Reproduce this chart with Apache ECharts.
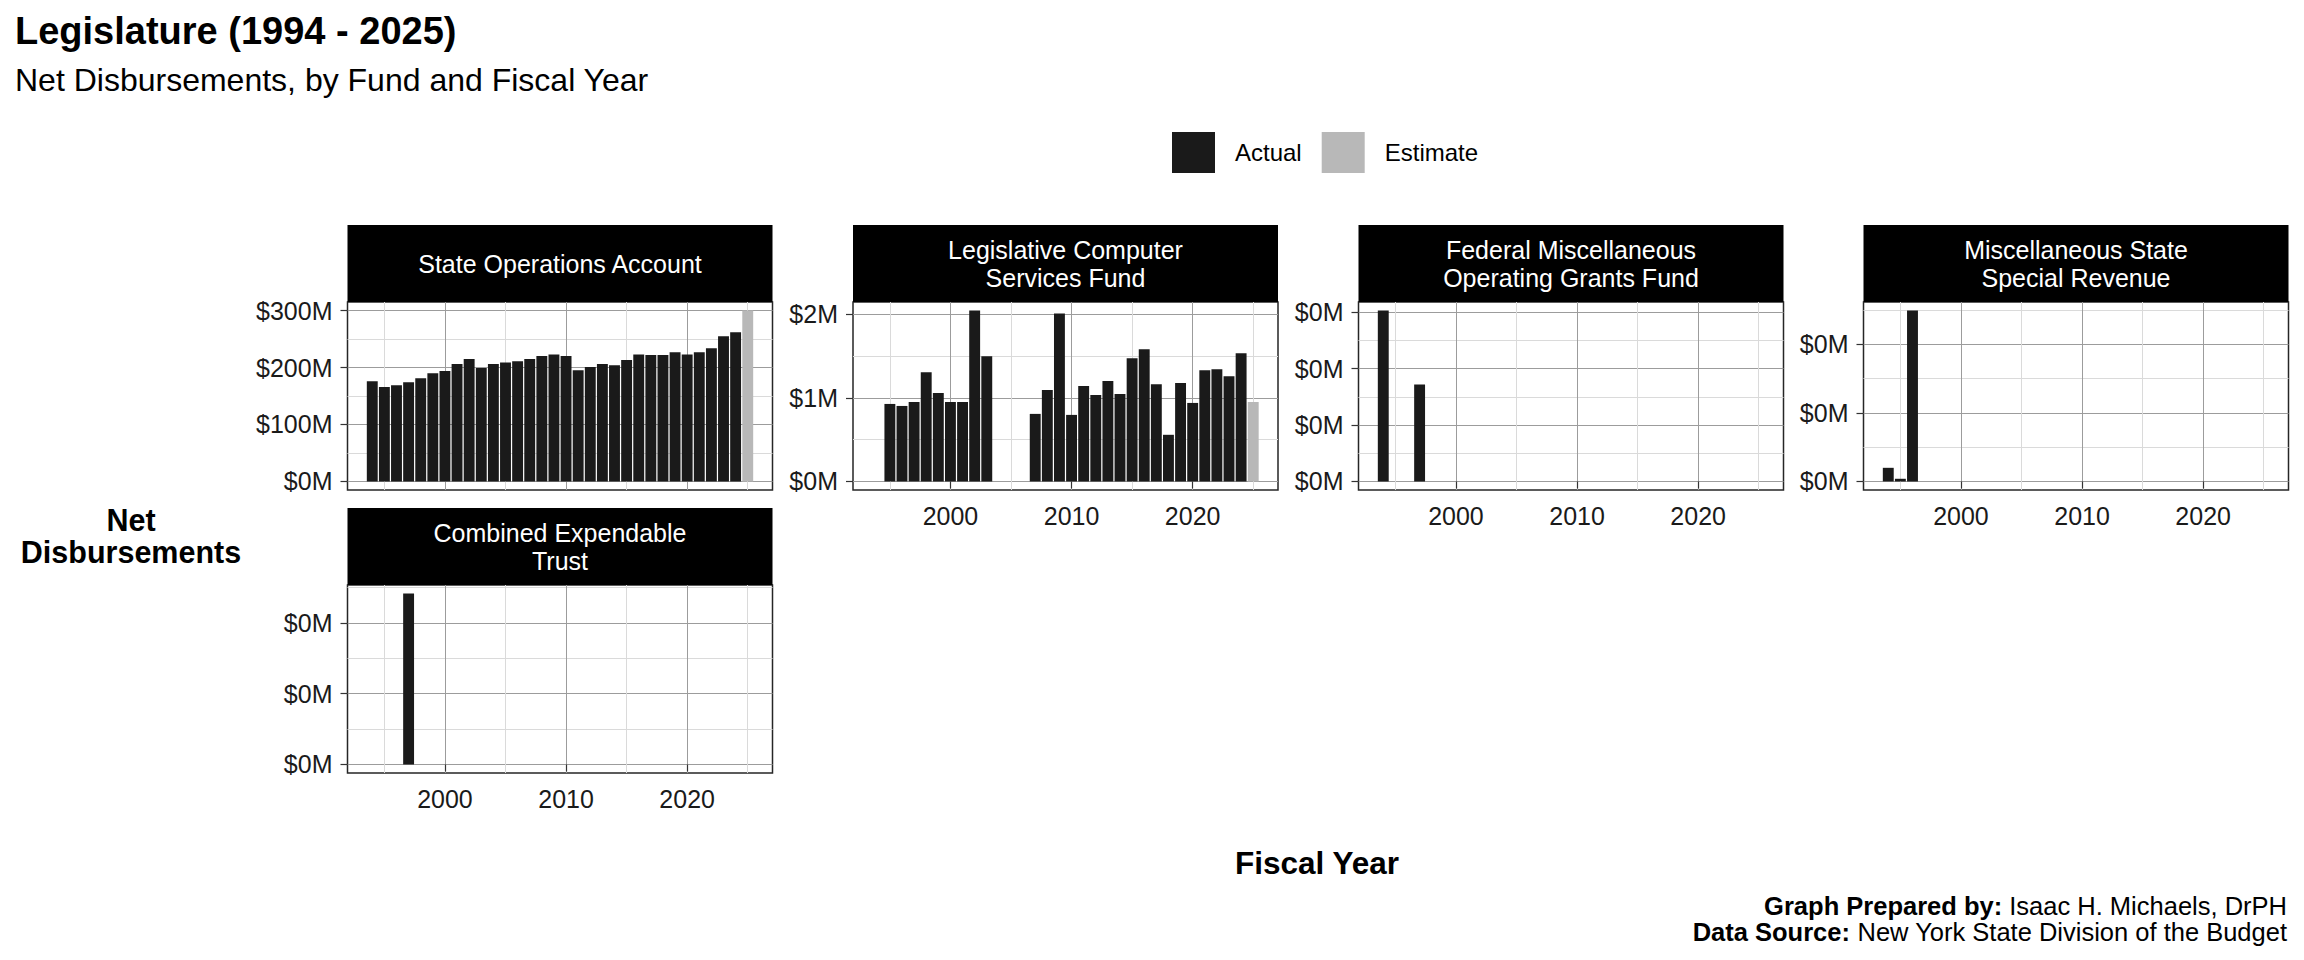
<!DOCTYPE html>
<html>
<head>
<meta charset="utf-8">
<script src="https://cdn.jsdelivr.net/npm/echarts@6/dist/echarts.min.js"></script>
<style>
html, body { margin: 0; padding: 0; background: #ffffff; }
#chart { width: 2304px; height: 960px; }
</style>
</head>
<body>
<div id="chart"></div>
<script>
// ---------------- DATA (values in millions of dollars) ----------------
const fundNames = [
  'State Operations Account',
  'Legislative Computer\nServices Fund',
  'Federal Miscellaneous\nOperating Grants Fund',
  'Miscellaneous State\nSpecial Revenue',
  'Combined Expendable\nTrust'
];
const seriesNames = ['Actual', 'Estimate'];
const fiscalYearSpan = [1994, 2025];

const stateOpsYears = [1994,1995,1996,1997,1998,1999,2000,2001,2002,2003,2004,2005,2006,2007,2008,2009,2010,2011,2012,2013,2014,2015,2016,2017,2018,2019,2020,2021,2022,2023,2024];
const stateOpsActual = [176,166,169,174,181,190,194,206,215,199,206,209,211,215,220,223,220,195,201,206,204,213,223,222,222,227,223,227,234,255,262];
const stateOpsEstYears = [2025];
const stateOpsEstimate = [300];

const computerYears = [1995,1996,1997,1998,1999,2000,2001,2002,2003,2007,2008,2009,2010,2011,2012,2013,2014,2015,2016,2017,2018,2019,2020,2021,2022,2023,2024];
const computerActual = [0.927,0.903,0.950,1.307,1.057,0.950,0.950,2.044,1.497,0.808,1.093,2.008,0.796,1.141,1.034,1.200,1.046,1.473,1.580,1.164,0.558,1.176,0.939,1.331,1.343,1.259,1.533];
const computerEstYears = [2025];
const computerEstimate = [0.950];

const federalYears = [1994, 1997];
const federalActual = [0.303, 0.172];

const miscStateYears = [1994, 1995, 1996];
const miscStateActual = [0.0398, 0.0078, 0.4988];

const expendableYears = [1997];
const expendableActual = [0.2417];

// tick values
const xTickValues = [2000, 2010, 2020];
const stateOpsTicks = [0, 100, 200, 300];
const computerTicks = [0, 1, 2];
const federalTicks = [0, 0.1, 0.2, 0.3];
const miscStateTicks = [0, 0.2, 0.4];
const expendableTicks = [0, 0.1, 0.2];

// ---------------- LAYOUT / STYLE ----------------
const FONT = "'Liberation Sans', Helvetica, Arial, sans-serif";
const PANEL_LEFT = [347.5, 853, 1358.5, 1863.5];
const ROW_TOP = [302, 585];
const PANEL_W = 425;
const PANEL_H = 188;
const STRIP_H = 77;
const ACTUAL_COLOR = '#1a1a1a';
const EST_COLOR = '#b8b8b8';
const MAJOR_GRID = '#9c9c9c';
const MINOR_GRID = '#dadada';

const panels = [
  { name: fundNames[0], col: 0, row: 0, years: stateOpsYears, actual: stateOpsActual, estYears: stateOpsEstYears, est: stateOpsEstimate, ticks: stateOpsTicks, split: 3, showX: false },
  { name: fundNames[1], col: 1, row: 0, years: computerYears, actual: computerActual, estYears: computerEstYears, est: computerEstimate, ticks: computerTicks, split: 2, showX: true },
  { name: fundNames[2], col: 2, row: 0, years: federalYears, actual: federalActual, estYears: [], est: [], ticks: federalTicks, split: 3, showX: true },
  { name: fundNames[3], col: 3, row: 0, years: miscStateYears, actual: miscStateActual, estYears: [], est: [], ticks: miscStateTicks, split: 3, showX: true },
  { name: fundNames[4], col: 0, row: 1, years: expendableYears, actual: expendableActual, estYears: [], est: [], ticks: expendableTicks, split: 3, showX: true }
];

// ggplot-like continuous expansion (5%)
const xLo = fiscalYearSpan[0] - 0.45, xHi = fiscalYearSpan[1] + 0.45;
const xPad = 0.05 * (xHi - xLo);
const X_MIN = xLo - xPad, X_MAX = xHi + xPad;
const BAR_W = PANEL_W / (X_MAX - X_MIN) * 0.9;

const fmtMoney = v => '$' + Math.round(v) + 'M';
const fmtYear = v => String(Math.round(v));

const grids = [], xAxes = [], yAxes = [], series = [], graphics = [];

panels.forEach((p, i) => {
  const left = PANEL_LEFT[p.col];
  const top = ROW_TOP[p.row];
  grids.push({
    left: left, top: top, width: PANEL_W, height: PANEL_H,
    show: true, borderColor: '#262626', borderWidth: 1.5, backgroundColor: '#ffffff',
    containLabel: false, outerBoundsMode: 'none'
  });
  const vmax = Math.max(...p.actual, ...(p.est.length ? p.est : [0]));
  const yMin = -0.05 * vmax, yMax = 1.05 * vmax;

  xAxes.push({
    type: 'value', gridIndex: i, min: X_MIN, max: X_MAX, splitNumber: 4,
    axisLine: { show: false },
    axisTick: { show: p.showX, length: 7, lineStyle: { color: '#333333', width: 1.2 }, customValues: xTickValues },
    axisLabel: { show: p.showX, customValues: xTickValues, formatter: fmtYear, fontSize: 25, color: '#1a1a1a', fontFamily: FONT, margin: 13 },
    splitLine: { show: true, lineStyle: { color: MAJOR_GRID, width: 1 } },
    minorTick: { show: false, splitNumber: 2 },
    minorSplitLine: { show: true, lineStyle: { color: MINOR_GRID, width: 1 } }
  });
  yAxes.push({
    type: 'value', gridIndex: i, min: yMin, max: yMax, splitNumber: p.split,
    axisLine: { show: false },
    axisTick: { show: true, length: 7, lineStyle: { color: '#333333', width: 1.2 }, customValues: p.ticks },
    axisLabel: { customValues: p.ticks, formatter: fmtMoney, fontSize: 25, color: '#1a1a1a', fontFamily: FONT, margin: 15 },
    splitLine: { show: true, lineStyle: { color: MAJOR_GRID, width: 1 } },
    minorTick: { show: false, splitNumber: 2 },
    minorSplitLine: { show: true, lineStyle: { color: MINOR_GRID, width: 1 } }
  });
  series.push({
    type: 'bar', name: seriesNames[0], xAxisIndex: i, yAxisIndex: i,
    data: p.years.map((y, k) => [y, p.actual[k]]),
    barWidth: BAR_W, barGap: '-100%',
    itemStyle: { color: ACTUAL_COLOR }, silent: true
  });
  series.push({
    type: 'bar', name: seriesNames[1], xAxisIndex: i, yAxisIndex: i,
    data: p.estYears.map((y, k) => [y, p.est[k]]),
    barWidth: BAR_W, barGap: '-100%',
    itemStyle: { color: EST_COLOR }, silent: true
  });

  // facet strip
  graphics.push({
    type: 'rect', z: 10,
    shape: { x: left, y: top - STRIP_H, width: PANEL_W, height: STRIP_H },
    style: { fill: '#000000' }
  });
  graphics.push({
    type: 'text', z: 11, x: left + PANEL_W / 2, y: top - STRIP_H / 2 + 0.5,
    style: { text: p.name, fill: '#ffffff', fontSize: 25, fontFamily: FONT, textAlign: 'center', textVerticalAlign: 'middle', lineHeight: 27.5 }
  });
});

// axis titles
graphics.push({
  type: 'text', x: 131, y: 535.5,
  style: { text: 'Net\nDisbursements', fill: '#000000', fontSize: 30.5, fontWeight: 'bold', fontFamily: FONT, textAlign: 'center', textVerticalAlign: 'middle', lineHeight: 32 }
});
graphics.push({
  type: 'text', x: 1317, y: 862.5,
  style: { text: 'Fiscal Year', fill: '#000000', fontSize: 31.5, fontWeight: 'bold', fontFamily: FONT, textAlign: 'center', textVerticalAlign: 'middle' }
});
// caption
const capRich = { b: { fontWeight: 'bold', fontSize: 25.5, fontFamily: FONT, fill: '#000000', color: '#000000' }, n: { fontSize: 25.5, fontFamily: FONT, fill: '#000000', color: '#000000' } };
graphics.push({
  type: 'text', x: 2287, y: 906,
  style: { text: '{b|Graph Prepared by:}{n| Isaac H. Michaels, DrPH}', rich: capRich, fontSize: 25.5, fontFamily: FONT, fill: '#000000', textAlign: 'right', textVerticalAlign: 'middle' }
});
graphics.push({
  type: 'text', x: 2287, y: 932,
  style: { text: '{b|Data Source:}{n| New York State Division of the Budget}', rich: capRich, fontSize: 25.5, fontFamily: FONT, fill: '#000000', textAlign: 'right', textVerticalAlign: 'middle' }
});

const option = {
  backgroundColor: '#ffffff',
  animation: false,
  title: [
    { text: 'Legislature (1994 - 2025)', left: 15, top: 11.5, padding: 0,
      textStyle: { fontSize: 38, fontWeight: 'bold', color: '#000000', fontFamily: FONT } },
    { text: 'Net Disbursements, by Fund and Fiscal Year', left: 15, top: 63.5, padding: 0,
      textStyle: { fontSize: 32, fontWeight: 'normal', color: '#000000', fontFamily: FONT } }
  ],
  legend: {
    data: seriesNames, left: 1172, top: 132, padding: 0,
    icon: 'rect', itemWidth: 43, itemHeight: 41, itemGap: 20,
    selectedMode: false,
    textStyle: { fontSize: 24, color: '#000000', fontFamily: FONT, padding: [0, 0, 0, 15] }
  },
  grid: grids,
  xAxis: xAxes,
  yAxis: yAxes,
  series: series,
  graphic: { elements: graphics }
};

const chart = echarts.init(document.getElementById('chart'), null, { renderer: 'svg', width: 2304, height: 960 });
chart.setOption(option);
</script>
</body>
</html>
